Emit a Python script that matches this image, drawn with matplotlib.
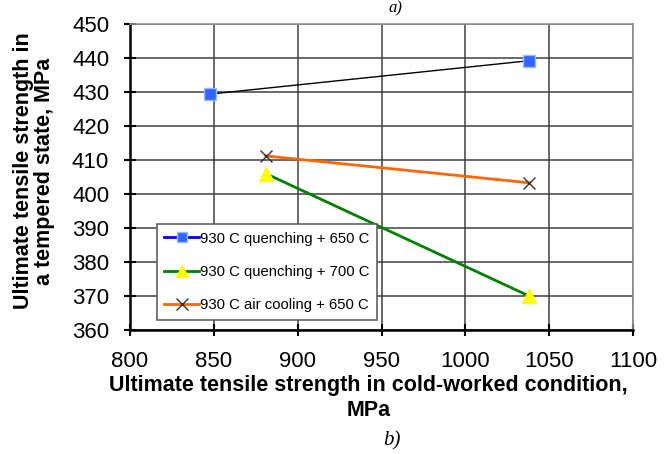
import matplotlib
matplotlib.use("Agg")
import matplotlib.pyplot as plt
from matplotlib.lines import Line2D

plt.rcParams['font.family'] = ['Liberation Sans', 'DejaVu Sans']

# values
cold_q650 = [848, 1038]
temp_q650 = [429.4, 439.2]
cold_q700 = [881, 1038]
temp_q700 = [406.0, 370.0]
cold_air650 = [881, 1038]
temp_air650 = [411.2, 403.3]
labels = ["930 C quenching + 650 C", "930 C quenching + 700 C", "930 C air cooling + 650 C"]
x_ticks = [800, 850, 900, 950, 1000, 1050, 1100]
y_ticks = [360, 370, 380, 390, 400, 410, 420, 430, 440, 450]

fig = plt.figure(figsize=(6.69, 4.54), dpi=100)
ax = fig.add_axes([130 / 669, 1 - 330 / 454, 503 / 669, 306 / 454])

ax.set_xlim(800, 1100)
ax.set_ylim(360, 450)
ax.set_xticks(x_ticks)
ax.set_yticks(y_ticks)
ax.grid(True, color='#404040', linewidth=1.1)
ax.set_axisbelow(True)

for s in ['top', 'right']:
    ax.spines[s].set_color('#909090')
    ax.spines[s].set_linewidth(1.2)
for s in ['left', 'bottom']:
    ax.spines[s].set_color('black')
    ax.spines[s].set_linewidth(1.8)
ax.tick_params(axis='both', direction='inout', length=8, width=1.5, labelsize=16)
ax.tick_params(axis='x', pad=11)
ax.tick_params(axis='y', pad=11)

# series: the first one's line is black in the plot area
ax.plot(cold_q650, temp_q650, color='black', linewidth=1.0, zorder=3)
ax.plot(cold_q650, temp_q650, linestyle='none', marker='s', markersize=8.5,
        markerfacecolor='#3366ff', markeredgecolor='#99bbff', markeredgewidth=1, zorder=4)
ax.plot(cold_q700, temp_q700, color='#008000', linewidth=2, marker='^', markersize=10,
        markerfacecolor='#ffff00', markeredgecolor='#ffff00', zorder=4)
ax.plot(cold_air650, temp_air650, color='#ff6600', linewidth=2, zorder=3)
ax.plot(cold_air650, temp_air650, linestyle='none', marker='x', markersize=9,
        markeredgecolor='#333333', markeredgewidth=1, zorder=4)

handles = [
    Line2D([], [], color='#0000ff', linewidth=2, marker='s', markersize=7,
           markerfacecolor='#3366ff', markeredgecolor='#99bbff'),
    Line2D([], [], color='#008000', linewidth=2, marker='^', markersize=9,
           markerfacecolor='#ffff00', markeredgecolor='#ffff00'),
    Line2D([], [], color='#ff6600', linewidth=2, marker='x', markersize=8,
           markeredgecolor='#333333'),
]
leg = ax.legend(handles, labels, loc='upper left', bbox_to_anchor=(0.0537, 0.346),
                fontsize=10.7, frameon=True, fancybox=False, handlelength=2.3,
                handletextpad=0.1, labelspacing=1.3, borderpad=0.5, borderaxespad=0)
leg.get_frame().set_edgecolor('#606060')
leg.get_frame().set_linewidth(1.2)
leg.get_frame().set_alpha(1)

ax.set_ylabel("Ultimate tensile strength in\na tempered state, MPa",
              fontsize=15.5, fontweight='bold', linespacing=0.95)
ax.yaxis.set_label_coords(-0.15, 0.52)
ax.set_xlabel("Ultimate tensile strength in cold-worked condition,\nMPa",
              fontsize=15.5, fontweight='bold', linespacing=1.3)
ax.xaxis.set_label_coords(0.474, -0.146)

fig.text(395 / 669, 1.0, "a)", ha='center', va='top', fontsize=12,
         style='italic', family='Liberation Serif')
fig.text(392 / 669, 1 - 441 / 454, "b)", ha='center', va='center', fontsize=15,
         style='italic', family='Liberation Serif')

fig.savefig("out.png", dpi=100)
